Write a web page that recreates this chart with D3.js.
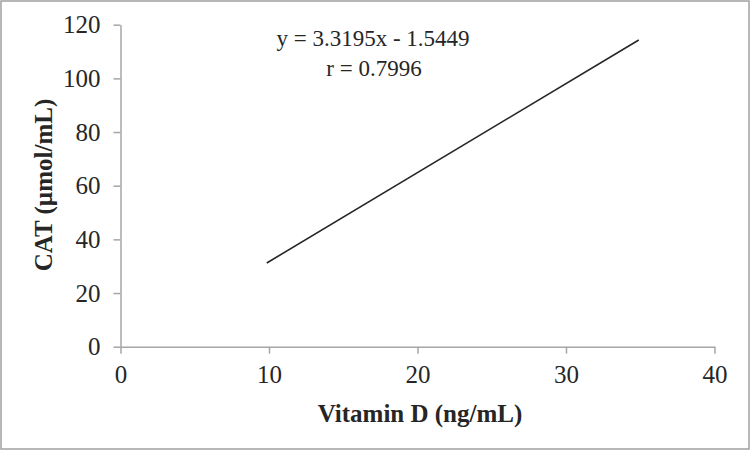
<!DOCTYPE html>
<html>
<head>
    <meta charset="utf-8">
    <style>
        body { margin: 0; background: #fff; }
        svg { display: block; }
        .axis path, .axis line { stroke: #a6a6a6; stroke-width: 1.5px; }
        .axis text { font-family: "Liberation Serif", "Times New Roman", serif; font-size: 25px; fill: #262626; }
        .title { font-family: "Liberation Serif", "Times New Roman", serif; font-weight: bold; font-size: 25px; fill: #262626; }
        .eq { font-family: "Liberation Serif", "Times New Roman", serif; font-size: 23px; fill: #262626; }
    </style>
</head>
<body>
    <script src="https://cdn.jsdelivr.net/npm/d3@7"></script>
    <script>
        // trendline end points
        var vitaminD = [9.85, 34.9];
        var cat = [31.2, 114.3];
        var xTicks = [0, 10, 20, 30, 40];
        var yTicks = [0, 20, 40, 60, 80, 100, 120];
        var equation = "y = 3.3195x - 1.5449";
        var rText = "r = 0.7996";

        var W = 751, H = 451;

        var x = d3.scaleLinear().domain([0, 40]).range([0, 594]);
        var y = d3.scaleLinear().domain([0, 120]).range([322, 0]);

        var root = d3.select("body").append("svg")
            .attr("width", W)
            .attr("height", H);

        // outer border
        root.append("rect")
            .attr("x", 1).attr("y", 1)
            .attr("width", W - 3).attr("height", H - 3)
            .attr("fill", "#fff")
            .attr("stroke", "#a0a0a0")
            .attr("stroke-width", 1.5);

        var svg = root.append("g")
            .attr("transform", "translate(120.5,24.7)");

        // X axis
        svg.append("g")
            .attr("class", "axis")
            .attr("transform", "translate(0," + y(0) + ")")
            .call(d3.axisBottom(x).tickValues(xTicks).tickSize(7).tickSizeOuter(0).tickPadding(12));

        // Y axis
        svg.append("g")
            .attr("class", "axis")
            .call(d3.axisLeft(y).tickValues(yTicks).tickSize(7).tickSizeOuter(0).tickPadding(13));

        // trendline
        var data = vitaminD.map(function (d, i) { return { x: d, y: cat[i] }; });
        var line = d3.line()
            .x(function (d) { return x(d.x); })
            .y(function (d) { return y(d.y); });
        svg.append("path")
            .datum(data)
            .attr("d", line)
            .attr("fill", "none")
            .attr("stroke", "#262626")
            .attr("stroke-width", 1.6);

        // equation labels
        root.append("text").attr("class", "eq")
            .attr("x", 373).attr("y", 46)
            .attr("text-anchor", "middle")
            .text(equation);
        root.append("text").attr("class", "eq")
            .attr("x", 374).attr("y", 76)
            .attr("text-anchor", "middle")
            .text(rText);

        // axis titles
        root.append("text").attr("class", "title")
            .attr("x", 420).attr("y", 422)
            .attr("text-anchor", "middle")
            .text("Vitamin D (ng/mL)");
        root.append("text").attr("class", "title")
            .attr("transform", "translate(52,185) rotate(-90)")
            .attr("text-anchor", "middle")
            .text("CAT (\u00b5mol/mL)");
    </script>
</body>
</html>
